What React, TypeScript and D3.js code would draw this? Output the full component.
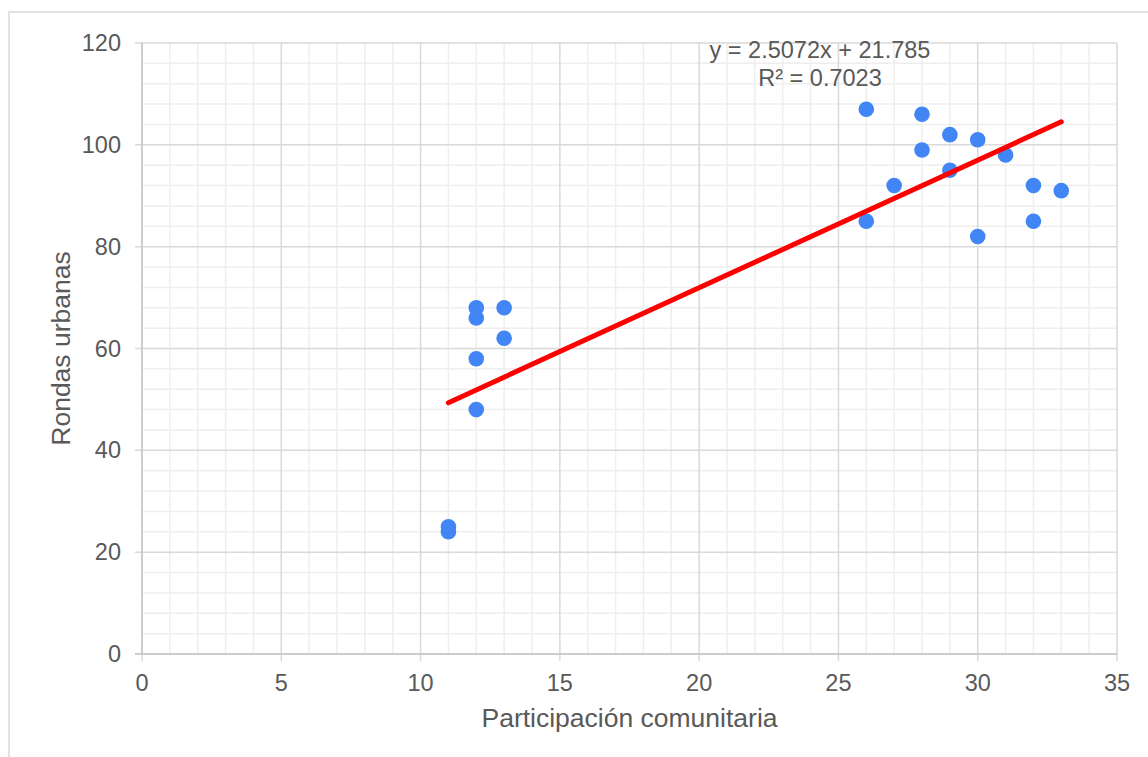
import React from "react";
import * as d3 from "d3";

const participacion = [11, 11, 12, 12, 12, 12, 13, 13, 26, 26, 27, 28, 28, 29, 29, 30, 30, 31, 32, 32, 33];
const rondas = [25, 24, 68, 66, 58, 48, 68, 62, 107, 85, 92, 106, 99, 102, 95, 101, 82, 98, 92, 85, 91];
const xTicks = [0, 5, 10, 15, 20, 25, 30, 35];
const yTicks = [0, 20, 40, 60, 80, 100, 120];
const trendSlope = 2.5072;
const trendIntercept = 21.785;
const trendLabel = "y = 2.5072x + 21.785";
const r2Label = "R² = 0.7023";
const xTitle = "Participación comunitaria";
const yTitle = "Rondas urbanas";

const W = 1148;
const H = 757;
const M = { left: 142, right: 1117, top: 43, bottom: 654 };
const FONT = "'Liberation Sans', Arial, sans-serif";
const TXT = "#595959";

export default function App() {
  const x = d3.scaleLinear().domain([0, 35]).range([M.left, M.right]);
  const y = d3.scaleLinear().domain([0, 120]).range([M.bottom, M.top]);
  const xMinor = d3.range(0, 36, 1).filter((v) => v % 5 !== 0);
  const yMinor = d3.range(0, 121, 4).filter((v) => v % 20 !== 0);
  const xs = d3.extent(participacion) as [number, number];
  const line = d3.line<number>().x((v) => x(v)).y((v) => y(trendSlope * v + trendIntercept));

  return (
    <svg width={W} height={H} style={{ position: "absolute", left: 0, top: 0, background: "#fff" }}>
      <rect x={9} y={12} width={W + 20} height={H + 20} fill="#fff" stroke="#d9d9d9" strokeWidth={1.5} />
      {xMinor.map((v) => (
        <line key={"xm" + v} x1={x(v)} x2={x(v)} y1={M.top} y2={M.bottom} stroke="#eeeeee" strokeWidth={1.5} />
      ))}
      {yMinor.map((v) => (
        <line key={"ym" + v} x1={M.left} x2={M.right} y1={y(v)} y2={y(v)} stroke="#eeeeee" strokeWidth={1.5} />
      ))}
      {xTicks.map((v) => (
        <line key={"xg" + v} x1={x(v)} x2={x(v)} y1={M.top} y2={M.bottom + 7} stroke="#d9d9d9" strokeWidth={1.5} />
      ))}
      {yTicks.map((v) => (
        <line key={"yg" + v} x1={M.left - 7} x2={M.right} y1={y(v)} y2={y(v)} stroke="#d9d9d9" strokeWidth={1.5} />
      ))}
      <line x1={M.left} x2={M.left} y1={M.top} y2={M.bottom} stroke="#c6c6c6" strokeWidth={1.5} />
      <line x1={M.left - 7} x2={M.right} y1={M.bottom} y2={M.bottom} stroke="#c6c6c6" strokeWidth={1.5} />
      {xTicks.map((v) => (
        <text key={"xt" + v} x={x(v)} y={M.bottom + 37} textAnchor="middle" fontFamily={FONT} fontSize={23.5} fill={TXT}>
          {v}
        </text>
      ))}
      {yTicks.map((v) => (
        <text key={"yt" + v} x={M.left - 21} y={y(v) + 8} textAnchor="end" fontFamily={FONT} fontSize={23.5} fill={TXT}>
          {v}
        </text>
      ))}
      {participacion.map((v, i) => (
        <circle key={"p" + i} cx={x(v)} cy={y(rondas[i])} r={7.8} fill="#4285F4" />
      ))}
      <path d={line(xs) || ""} fill="none" stroke="#ff0000" strokeWidth={5} strokeLinecap="round" />
      <text x={820} y={58} textAnchor="middle" fontFamily={FONT} fontSize={23.5} fill={TXT}>
        {trendLabel}
      </text>
      <text x={820} y={86} textAnchor="middle" fontFamily={FONT} fontSize={23.5} fill={TXT}>
        {r2Label}
      </text>
      <text x={(M.left + M.right) / 2} y={727} textAnchor="middle" fontFamily={FONT} fontSize={26.5} fill={TXT}>
        {xTitle}
      </text>
      <text
        transform={`translate(70, ${(M.top + M.bottom) / 2}) rotate(-90)`}
        textAnchor="middle"
        fontFamily={FONT}
        fontSize={26.5}
        fill={TXT}
      >
        {yTitle}
      </text>
    </svg>
  );
}
